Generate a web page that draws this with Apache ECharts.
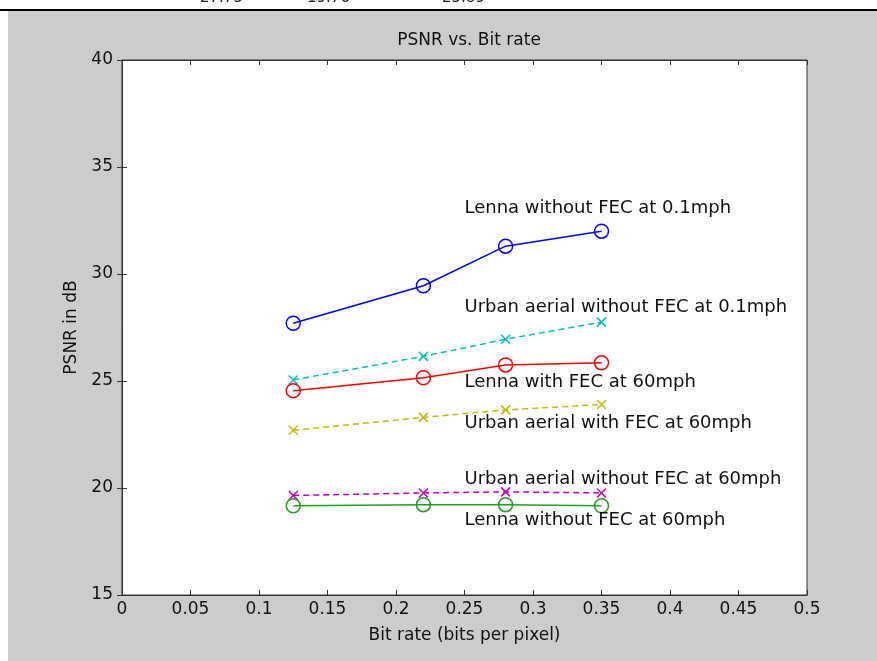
<!DOCTYPE html>
<html>
<head>
<meta charset="utf-8">
<script src="https://cdn.jsdelivr.net/npm/echarts@6/dist/echarts.min.js"></script>
<style>
    html, body { margin: 0; padding: 0; background: #fff; }
    #chart { width: 877px; height: 661px; }
</style>
</head>
<body>
<div id="chart"></div>
<script>
// bit rates (bits per pixel)
const bitRates = [0.125, 0.22, 0.28, 0.35];

// PSNR values in dB
const lennaNoFec01 = [27.7, 29.45, 31.3, 32.0];
const urbanNoFec01 = [25.05, 26.15, 26.95, 27.75];
const lennaFec60 = [24.55, 25.15, 25.75, 25.85];
const urbanFec60 = [22.7, 23.3, 23.65, 23.9];
const urbanNoFec60 = [19.65, 19.77, 19.82, 19.77];
const lennaNoFec60 = [19.17, 19.22, 19.22, 19.17];

// text annotations [x, y, text]
const notes = [
    [0.25, 33.05, "Lenna without FEC at 0.1mph"],
    [0.25, 28.45, "Urban aerial without FEC at 0.1mph"],
    [0.25, 24.95, "Lenna with FEC at 60mph"],
    [0.25, 23.0, "Urban aerial with FEC at 60mph"],
    [0.25, 20.4, "Urban aerial without FEC at 60mph"],
    [0.25, 18.5, "Lenna without FEC at 60mph"],
];

// cropped table row above the figure
const tableRow = ["27.75", "19.76", "25.89"];

const FONT = "DejaVu Sans";
const X_MARK = "path://M0,0L10,10M10,0L0,10";

function makeSeries(name, values, color, mark, dashed) {
    return {
        name: name,
        type: "line",
        data: bitRates.map((x, i) => [x, values[i]]),
        symbol: mark === "o" ? "circle" : X_MARK,
        symbolSize: mark === "o" ? 14 : 9,
        showAllSymbol: true,
        lineStyle: {
            color: color,
            width: 1.5,
            type: dashed ? [6, 4] : "solid",
        },
        itemStyle: {
            color: mark === "o" ? "rgba(0,0,0,0)" : color,
            borderColor: color,
            borderWidth: 1.5,
        },
        emphasis: { disabled: true },
        z: 3,
    };
}

const chart = echarts.init(document.getElementById("chart"));

const axisLine = { show: true, lineStyle: { color: "#333", width: 1 } };
const tickStyle = { show: true, inside: true, length: 5, lineStyle: { color: "#333" } };
const labelStyle = { color: "#111", fontFamily: FONT, fontSize: 17 };

const option = {
    backgroundColor: "#fff",
    animation: false,
    title: {
        text: "PSNR vs. Bit rate",
        left: 464,
        top: 27,
        textAlign: "center",
        textStyle: { color: "#111", fontFamily: FONT, fontSize: 17, fontWeight: "normal" },
    },
    graphic: [
        { type: "rect", shape: { x: 8, y: 11, width: 869, height: 650 }, style: { fill: "#cccccc" }, z: -10, silent: true },
        { type: "rect", shape: { x: 0, y: 9, width: 877, height: 2 }, style: { fill: "#000" }, z: -9, silent: true },
        ...tableRow.map((t, i) => ({
            type: "text",
            left: [200, 307, 442][i],
            top: -9,
            style: { text: t, fill: "#222", font: "15px " + FONT },
            z: -9,
            silent: true,
        })),
    ],
    grid: {
        left: 122,
        right: 70,
        top: 60,
        bottom: 66,
        show: true,
        backgroundColor: "#fff",
        borderColor: "#333",
        borderWidth: 1,
    },
    xAxis: [
        {
            type: "value",
            min: 0,
            max: 0.5,
            interval: 0.05,
            name: "Bit rate (bits per pixel)",
            nameLocation: "middle",
            nameGap: 32,
            nameTextStyle: { color: "#111", fontFamily: FONT, fontSize: 17 },
            axisLine: axisLine,
            axisTick: tickStyle,
            axisLabel: Object.assign({ margin: 6, formatter: (v) => String(+v.toFixed(2)) }, labelStyle),
            splitLine: { show: false },
        },
        {
            type: "value",
            position: "top",
            min: 0,
            max: 0.5,
            interval: 0.05,
            axisLine: axisLine,
            axisTick: tickStyle,
            axisLabel: { show: false },
            splitLine: { show: false },
        },
    ],
    yAxis: [
        {
            type: "value",
            min: 15,
            max: 40,
            interval: 5,
            name: "PSNR in dB",
            nameLocation: "middle",
            nameGap: 42,
            nameTextStyle: { color: "#111", fontFamily: FONT, fontSize: 17 },
            axisLine: axisLine,
            axisTick: tickStyle,
            axisLabel: Object.assign({ margin: 9 }, labelStyle),
            splitLine: { show: false },
        },
        {
            type: "value",
            position: "right",
            min: 15,
            max: 40,
            interval: 5,
            axisLine: axisLine,
            axisTick: tickStyle,
            axisLabel: { show: false },
            splitLine: { show: false },
        },
    ],
    series: [
        makeSeries("Lenna without FEC at 0.1mph", lennaNoFec01, "#0000ff", "o", false),
        makeSeries("Urban aerial without FEC at 0.1mph", urbanNoFec01, "#00bfbf", "x", true),
        makeSeries("Lenna with FEC at 60mph", lennaFec60, "#ff0000", "o", false),
        makeSeries("Urban aerial with FEC at 60mph", urbanFec60, "#bfbf00", "x", true),
        makeSeries("Urban aerial without FEC at 60mph", urbanNoFec60, "#bf00bf", "x", true),
        makeSeries("Lenna without FEC at 60mph", lennaNoFec60, "#20a020", "o", false),
        {
            name: "notes",
            type: "scatter",
            data: notes,
            symbolSize: 0,
            silent: true,
            itemStyle: { opacity: 1 },
            label: {
                show: true,
                position: "right",
                distance: 0,
                formatter: (p) => p.value[2],
                color: "#111",
                opacity: 1,
                fontFamily: FONT,
                fontSize: 18,
            },
            z: 4,
        },
    ],
};

chart.setOption(option);
</script>
</body>
</html>
